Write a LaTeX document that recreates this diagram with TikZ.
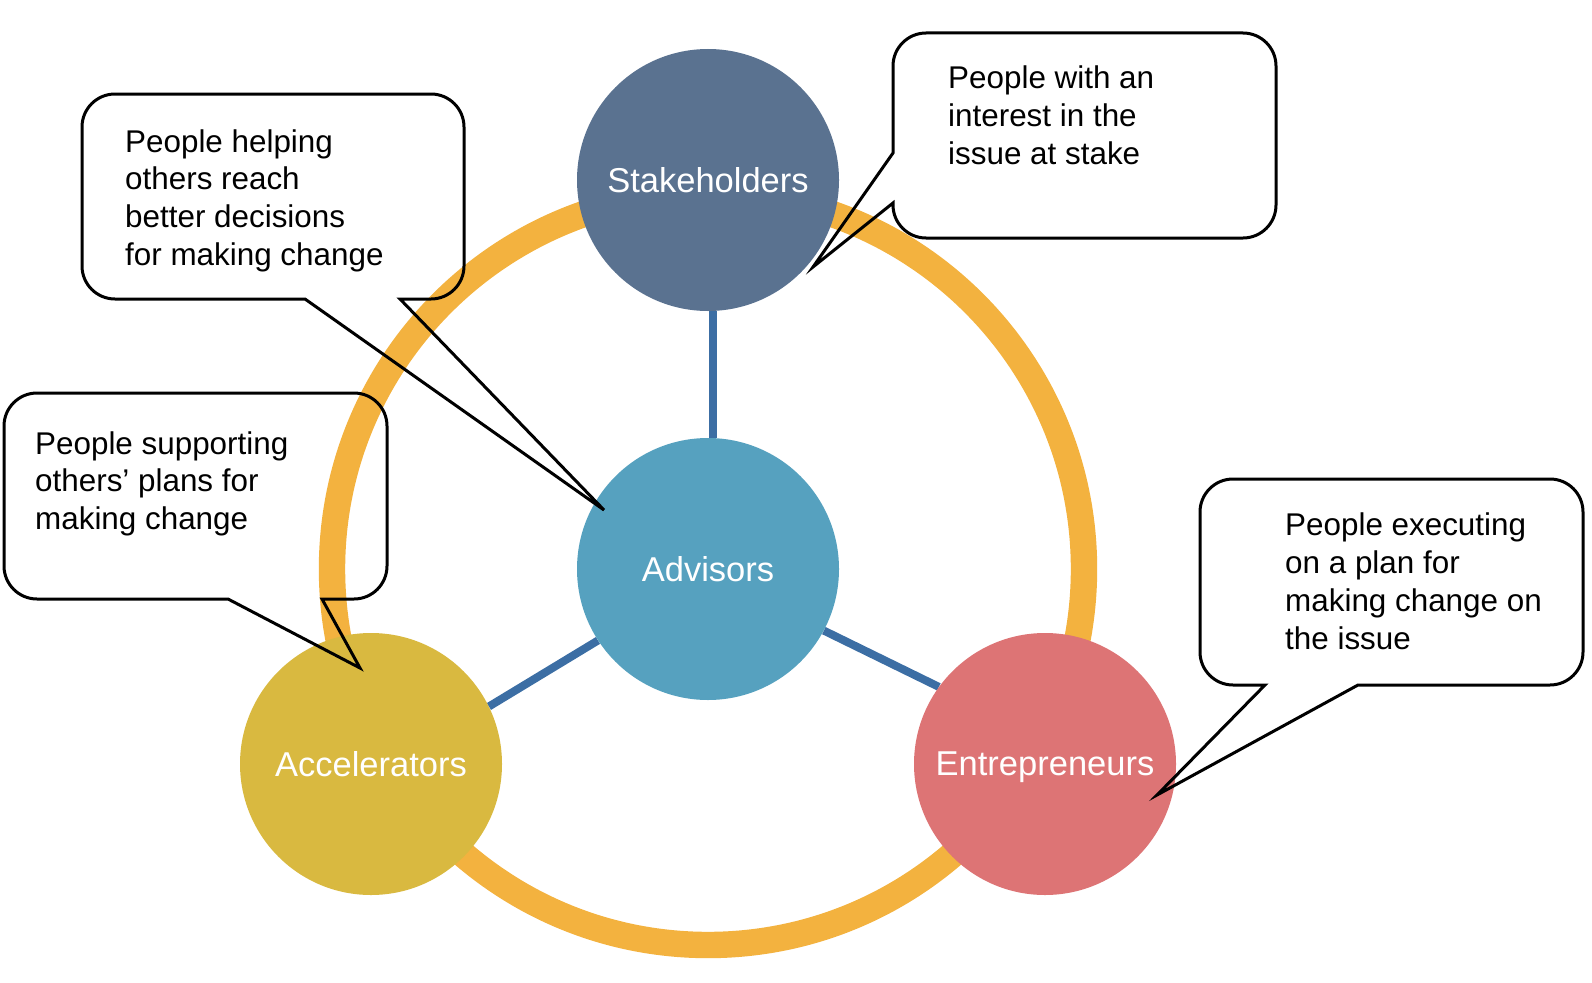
\documentclass[tikz,border=0pt]{standalone}
\usepackage{fontspec}
\setmainfont{Liberation Sans}
\definecolor{ringc}{HTML}{F3B23F}
\definecolor{linkc}{HTML}{3C6EA4}
\definecolor{stakec}{HTML}{5A7290}
\definecolor{advc}{HTML}{56A1BF}
\definecolor{accc}{HTML}{D9B940}
\definecolor{entc}{HTML}{DD7475}
\tikzset{
  role/.style={circle, minimum size=262pt, inner sep=0pt, text=white, text depth=0pt, font=\fontsize{34.5}{40}\selectfont},
  link/.style={draw=linkc, line width=8pt},
  callout/.style={draw=black, line width=3pt, line join=miter},
  calltext/.style={anchor=base west, inner sep=0pt, align=left, font=\fontsize{31.4}{37.7}\selectfont}
}
\begin{document}
\begin{tikzpicture}[x=1pt,y=-1pt]
\useasboundingbox (0,0) rectangle (1592,982);
% ring
\draw[ringc, line width=26.4pt] (708,569) circle[radius=376pt];
% nodes
\path (708,180) node[role] (stake) {}
      (708,569) node[role] (adv) {}
      (371,764) node[role] (acc) {}
      (1045,764) node[role] (ent) {};
% connectors
\draw[link] (stake.272) -- (adv.88);
\draw[link] (adv.213) -- (acc.26);
\draw[link] (adv.-28) -- (ent.144);
% circles on top
\node[role, fill=stakec] at (stake) {Stakeholders};
\node[role, fill=advc] at (adv) {Advisors};
\node[role, fill=accc] at (acc) {Accelerators};
\node[role, fill=entc] at (ent) {Entrepreneurs};
% callout 1
\draw[callout] (115,94) -- (431,94) .. controls +(18.2,0) and +(0,-18.2) .. (464,127)
  -- (464,266) .. controls +(0,18.2) and +(18.2,0) .. (431,299)
  -- (400,299) -- (604,510) -- (305,299)
  -- (115,299) .. controls +(-18.2,0) and +(0,18.2) .. (82,266)
  -- (82,127) .. controls +(0,-18.2) and +(-18.2,0) .. (115,94) -- cycle;
\node[calltext] (t1) at (125,265.1) {People helping\\others reach\\better decisions\\for making change};
% callout 2
\draw[callout] (37,393) -- (354,393) .. controls +(18.2,0) and +(0,-18.2) .. (387,426)
  -- (387,566) .. controls +(0,18.2) and +(18.2,0) .. (354,599)
  -- (322,599) -- (360,668) -- (228,599)
  -- (37,599) .. controls +(-18.2,0) and +(0,18.2) .. (4,566)
  -- (4,426) .. controls +(0,-18.2) and +(-18.2,0) .. (37,393) -- cycle;
\node[calltext] (t2) at (35,529.4) {People supporting\\others’ plans for\\making change};
% callout 3
\draw[callout] (926,33) -- (1243,33) .. controls +(18.2,0) and +(0,-18.2) .. (1276,66)
  -- (1276,205) .. controls +(0,18.2) and +(18.2,0) .. (1243,238)
  -- (926,238) .. controls +(-18.2,0) and +(0,18.2) .. (893,205)
  -- (893,203) -- (813,267) -- (893,153)
  -- (893,66) .. controls +(0,-18.2) and +(-18.2,0) .. (926,33) -- cycle;
\node[calltext] (t3) at (948,164) {People with an\\interest in the\\issue at stake};
% callout 4
\draw[callout] (1233,479) -- (1550,479) .. controls +(18.2,0) and +(0,-18.2) .. (1583,512)
  -- (1583,652) .. controls +(0,18.2) and +(18.2,0) .. (1550,685)
  -- (1358,685) -- (1157,795) -- (1265,685)
  -- (1233,685) .. controls +(-18.2,0) and +(0,18.2) .. (1200,652)
  -- (1200,512) .. controls +(0,-18.2) and +(-18.2,0) .. (1233,479) -- cycle;
\node[calltext] (t4) at (1285,649) {People executing\\on a plan for\\making change on\\the issue};
\end{tikzpicture}
\end{document}
